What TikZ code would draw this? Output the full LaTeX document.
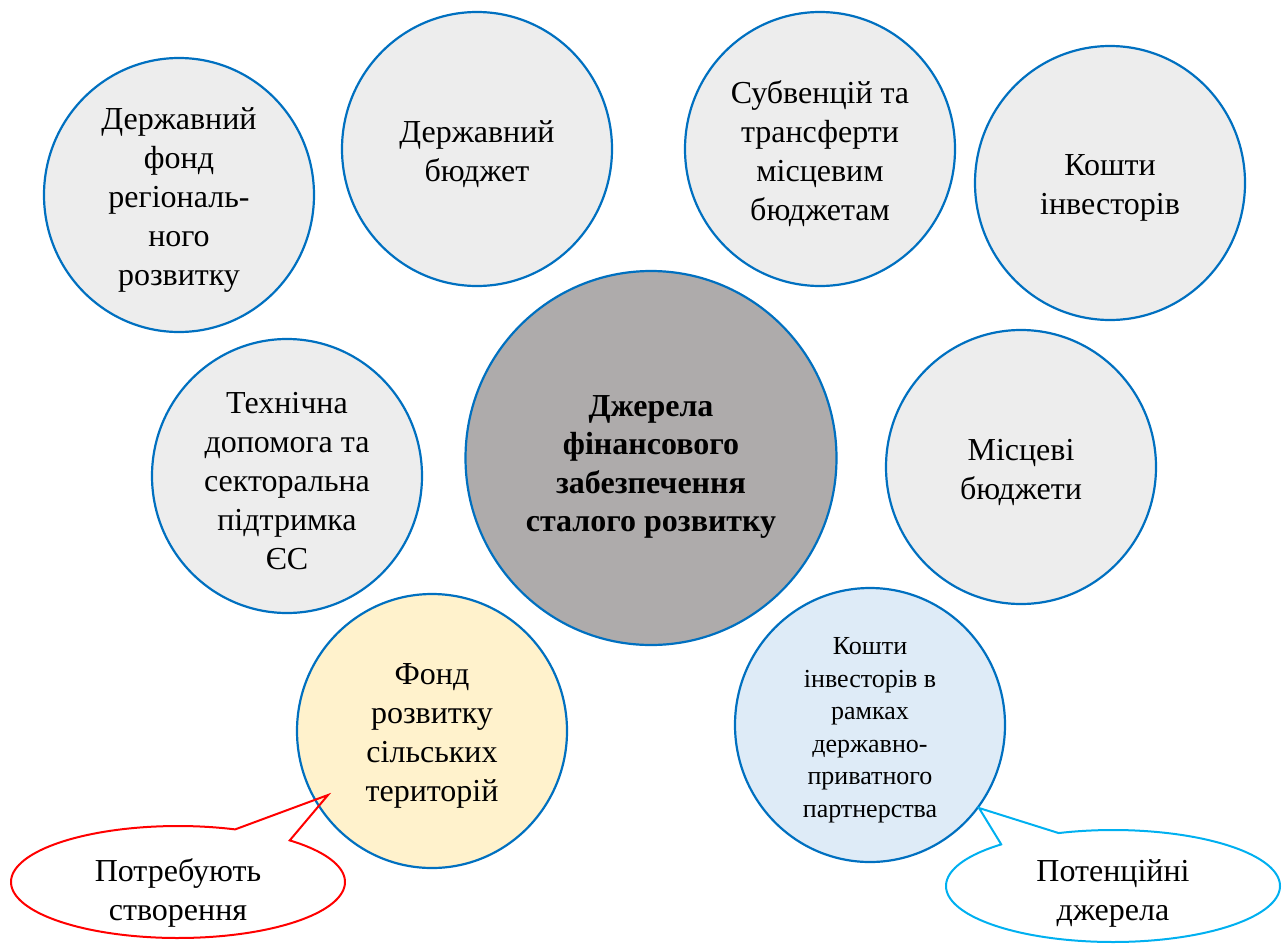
\documentclass[tikz,border=0pt]{standalone}
\usepackage{fontspec}
\setmainfont{Liberation Serif}
\usetikzlibrary{shapes.geometric}

\definecolor{rimblue}{RGB}{0,112,192}
\definecolor{srcgrey}{RGB}{237,237,237}
\definecolor{coregrey}{RGB}{174,171,171}
\definecolor{paleyellow}{RGB}{255,242,204}
\definecolor{paleblue}{RGB}{222,235,247}
\definecolor{calloutred}{RGB}{255,0,0}
\definecolor{calloutcyan}{RGB}{0,176,240}

\begin{document}
\begin{tikzpicture}[x=1pt,y=-1pt,
  src/.style={ellipse, draw=rimblue, line width=2.2pt, inner sep=0pt,
              minimum width=270pt, minimum height=274pt, fill=srcgrey},
  lbl/.style={align=center, inner sep=0pt, yshift=-5pt, font=\fontsize{32}{39}\selectfont},
  smalllbl/.style={align=center, inner sep=0pt, yshift=-5pt, font=\fontsize{26}{32.5}\selectfont},
  corelbl/.style={align=center, inner sep=0pt, yshift=-9pt, font=\bfseries\fontsize{32}{38.5}\selectfont},
  balloon/.style={line width=2pt, line join=miter},
]
\useasboundingbox (0,0) rectangle (1287,945);

% source circles
\node[src] (fond)   at (179,195) {};
\node[src] (budget) at (477,149) {};
\node[src] (subv)   at (820,149) {};
\node[src] (invest) at (1110,183) {};
\node[src] (tech)   at (287,476) {};
\node[src] (local)  at (1021,467) {};
\node[src, fill=paleyellow] (rural) at (432,731) {};
\node[src, fill=paleblue]   (ppp)   at (870,725) {};
\node[src, fill=coregrey, minimum width=371pt, minimum height=374pt] (core) at (651,458) {};

% labels
\node[lbl] (fondtxt)   at (fond)   {Державний\\фонд\\регіональ-\\ного\\розвитку};
\node[lbl] (budgettxt) at (budget) {Державний\\бюджет};
\node[lbl] (subvtxt)   at (subv)   {Субвенцій та\\трансферти\\місцевим\\бюджетам};
\node[lbl] (investtxt) at (invest) {Кошти\\інвесторів};
\node[lbl] (techtxt)   at (tech)   {Технічна\\допомога та\\секторальна\\підтримка\\ЄС};
\node[lbl] (localtxt)  at (local)  {Місцеві\\бюджети};
\node[lbl] (ruraltxt)  at (rural)  {Фонд\\розвитку\\сільських\\територій};
\node[smalllbl] (ppptxt) at (ppp)  {Кошти\\інвесторів в\\рамках\\державно-\\приватного\\партнерства};
\node[corelbl] (coretxt) at (core) {Джерела\\фінансового\\забезпечення\\сталого розвитку};

% speech balloons
\coordinate (redtip)  at (328,795);
\coordinate (cyantip) at (979,808);
\draw[balloon, calloutred]
  ({178+167*cos(70)},{882-56*sin(70)}) -- (redtip) --
  ({178+167*cos(48)},{882-56*sin(48)}) --
  plot[domain=48:-290, samples=140] ({178+167*cos(\x)},{882-56*sin(\x)}) -- cycle;
\draw[balloon, calloutcyan]
  ({1113+167*cos(132)},{886-56*sin(132)}) -- (cyantip) --
  ({1113+167*cos(109)},{886-56*sin(109)}) --
  plot[domain=109:-228, samples=140] ({1113+167*cos(\x)},{886-56*sin(\x)}) -- cycle;
\node[lbl] (needtxt) at (178,888)  {Потребують\\створення};
\node[lbl] (pottxt)  at (1113,888) {Потенційні\\джерела};
\end{tikzpicture}
\end{document}
